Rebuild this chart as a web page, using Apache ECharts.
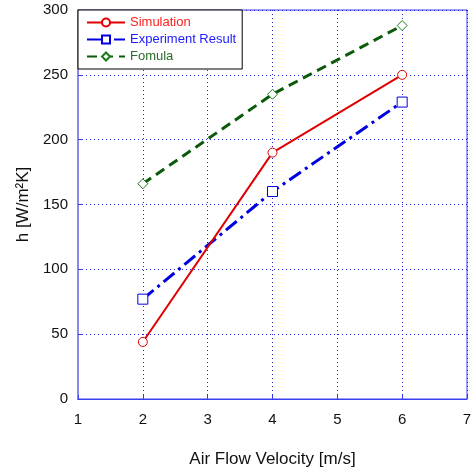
<!DOCTYPE html>
<html><head><meta charset="utf-8">
<script src="https://cdn.jsdelivr.net/npm/echarts@6/dist/echarts.min.js"></script>
<style>html,body{margin:0;padding:0;background:#fff}#c{width:475px;height:474px}</style>
</head><body><div id="c"></div>
<script>
var velocity = [2, 4, 6];
var simulation = [44, 190, 250];
var experiment = [77, 160, 229];
var formula = [166, 235, 288];
var seriesNames = ['Simulation', 'Experiment Result', 'Fomula'];

function pairs(ys){ return velocity.map(function(x,i){ return [x, ys[i]]; }); }

var chart = echarts.init(document.getElementById('c'));
var gridColor = '#3c3cf0';
chart.setOption({
  animation: false,
  textStyle: {fontFamily: 'Liberation Sans, Arial, sans-serif'},
  grid: {left: 78, right: 8, top: 10, bottom: 75, show: true, borderColor: gridColor, borderWidth: 1, backgroundColor: 'transparent'},
  legend: {
    left: 78, top: 10, orient: 'vertical', itemGap: 4, itemWidth: 38, itemHeight: 10,
    padding: [6, 6, 6, 8],
    borderColor: '#000', borderWidth: 1, borderRadius: 0, backgroundColor: '#fff',
    textStyle: {fontSize: 13, fontFamily: 'Liberation Sans, Arial, sans-serif'},
    data: [
      {name: seriesNames[0], textStyle: {color: '#ff2020'}},
      {name: seriesNames[1], textStyle: {color: '#2020ff'}},
      {name: seriesNames[2], textStyle: {color: '#2a6a2a'}}
    ]
  },
  xAxis: {
    type: 'value', min: 1, max: 7, interval: 1,
    name: 'Air Flow Velocity [m/s]', nameLocation: 'middle', nameGap: 52,
    nameTextStyle: {fontSize: 17, color: '#111'},
    axisLine: {show: true, lineStyle: {color: gridColor}},
    axisTick: {show: true, inside: true, length: 4, lineStyle: {color: gridColor}},
    axisLabel: {fontSize: 15, color: '#111', margin: 13},
    splitLine: {show: true, lineStyle: {type: [1, 3], color: '#2020e0', width: 1}}
  },
  yAxis: {
    type: 'value', min: 0, max: 300, interval: 50,
    name: 'h [W/m²K]', nameLocation: 'middle', nameGap: 41, nameRotate: 90,
    nameTextStyle: {fontSize: 17, color: '#111'},
    axisLine: {show: true, lineStyle: {color: '#8888ee', width: 2}},
    axisTick: {show: true, inside: true, length: 5, lineStyle: {color: gridColor}},
    axisLabel: {fontSize: 15, color: '#111', margin: 10},
    splitLine: {show: true, lineStyle: {type: [1, 3], color: '#2020e0', width: 1}}
  },
  series: [
    {name: seriesNames[0], type: 'line', data: pairs(simulation), symbol: 'circle', symbolSize: 9, showSymbol: true,
     lineStyle: {color: '#e00000', width: 2}, itemStyle: {color: '#fff', borderColor: '#e00000', borderWidth: 1}, color: '#e00000', z: 3},
    {name: seriesNames[1], type: 'line', data: pairs(experiment), symbol: 'rect', symbolSize: 10,
     lineStyle: {color: '#0000e0', width: 3, type: [14, 5, 3, 5]}, itemStyle: {color: '#fff', borderColor: '#0000e0', borderWidth: 1}, color: '#0000e0', z: 2},
    {name: seriesNames[2], type: 'line', data: pairs(formula), symbol: 'diamond', symbolSize: 10,
     lineStyle: {color: '#0a5a0a', width: 3, type: [10, 6]}, itemStyle: {color: '#fff', borderColor: '#1a7a1a', borderWidth: 1}, color: '#0a5a0a', z: 2}
  ]
});
</script>
</body></html>
